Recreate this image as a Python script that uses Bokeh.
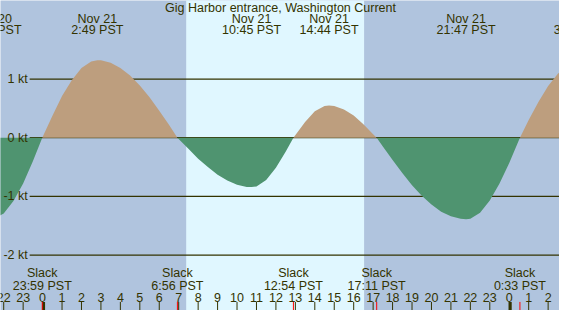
from bokeh.plotting import figure
from bokeh.models import Range1d
from bokeh.core.properties import value
from bokeh.embed import file_html
from bokeh.resources import INLINE
import numpy as np

chart_title = "Gig Harbor entrance, Washington Current"

# Current speed (hours from Nov 21 00:00 PST, knots; + flood, - ebb)
time_h = [-2.6, -2.5, -2.0, -1.5, -1.0, -0.5, -0.017, 0.5, 1.0, 1.5, 2.0, 2.5, 2.817,
          3.0, 3.5, 4.0, 4.5, 5.0, 5.5, 6.0, 6.5, 6.933, 7.5, 8.0, 8.5, 9.0, 9.5, 10.0,
          10.5, 10.75, 11.0, 11.5, 12.0, 12.5, 12.9, 13.5, 14.0, 14.5, 14.733, 15.0,
          15.5, 16.0, 16.5, 17.0, 17.183, 17.5, 18.0, 18.5, 19.0, 19.5, 20.0, 20.5,
          21.0, 21.5, 21.783, 22.0, 22.5, 23.0, 23.5, 24.0, 24.5, 24.55, 25.0, 25.5,
          26.0, 26.5, 27.0]
speed_kt = [-1.38, -1.38, -1.29, -1.08, -0.78, -0.40, 0.0, 0.37, 0.71, 0.98, 1.19, 1.30, 1.32,
            1.32, 1.28, 1.19, 1.06, 0.89, 0.69, 0.46, 0.22, 0.0, -0.19, -0.36, -0.50, -0.63, -0.73, -0.80,
            -0.84, -0.84, -0.83, -0.72, -0.51, -0.24, 0.0, 0.27, 0.45, 0.54, 0.55, 0.54,
            0.48, 0.38, 0.23, 0.06, 0.0, -0.15, -0.38, -0.60, -0.81, -0.99, -1.14, -1.26,
            -1.34, -1.38, -1.39, -1.38, -1.28, -1.07, -0.78, -0.43, -0.04, 0.0, 0.30, 0.61,
            0.88, 1.09, 1.23]

# Max flood / ebb events
ext_time = [-2.6, 2.817, 10.75, 14.733, 21.783, 27.633]
ext_date = ["Nov 20", "Nov 21", "Nov 21", "Nov 21", "Nov 21", "Nov 22"]
ext_clock = ["21:24 PST", "2:49 PST", "10:45 PST", "14:44 PST", "21:47 PST", "3:38 PST"]

# Slack events
slack_time = [-0.017, 6.933, 12.9, 17.183, 24.55]
slack_word = ["Slack", "Slack", "Slack", "Slack", "Slack"]
slack_clock = ["23:59 PST", "6:56 PST", "12:54 PST", "17:11 PST", "0:33 PST"]

# Hour ticks
hour_ticks = list(range(-2, 27))
hour_labels = ["22", "23", "0", "1", "2", "3", "4", "5", "6", "7", "8", "9", "10", "11",
               "12", "13", "14", "15", "16", "17", "18", "19", "20", "21", "22", "23",
               "0", "1", "2"]
midnight_ticks = [0, 24]

# Speed reference lines
kt_levels = [1, 0, -1, -2]
kt_labels = ["1 kt", "0 kt", "-1 kt", "-2 kt"]

# Daylight
sunrise_h = 7.385
sunset_h = 16.535

# ---------------------------------------------------------------
X0, X1 = -2.165, 26.585
Y0, Y1 = -2.945, 2.339

NIGHT = "#B0C4DE"
DAY = "#E0F7FF"
FLOOD = "#BD9E7E"
EBB = "#4F9470"
FG = "#333300"
FONT = value("Liberation Sans")
FS = "12.5px"

p = figure(width=559, height=310, x_range=Range1d(X0, X1), y_range=Range1d(Y0, Y1),
           output_backend="svg", toolbar_location=None, min_border=0)
p.axis.visible = False
p.grid.visible = False
p.outline_line_color = None
p.background_fill_color = NIGHT
p.border_fill_color = NIGHT

# daylight band
p.quad(left=[sunrise_h], right=[sunset_h], bottom=[Y0 - 1], top=[Y1 + 1],
       fill_color=DAY, line_color=None)

# reference lines
line_start = -0.665
p.segment(x0=[line_start] * len(kt_levels), x1=[X1 + 1] * len(kt_levels),
          y0=kt_levels, y1=kt_levels, line_color=FG, line_width=1.2)

# current fills
t = np.array(time_h)
s = np.array(speed_kt)
p.varea(x=t, y1=np.zeros_like(s), y2=np.maximum(s, 0), fill_color=FLOOD)
p.varea(x=t, y1=np.minimum(s, 0), y2=np.zeros_like(s), fill_color=EBB)

# kt labels
p.text(x=[-0.765] * len(kt_levels), y=kt_levels, text=kt_labels, text_align="right",
       text_baseline="middle", text_color=FG, text_font=FONT, text_font_size=FS)

# title
p.text(x=[12.235], y=[2.217], text=[chart_title], text_align="center",
       text_baseline="middle", text_color=FG, text_font=FONT, text_font_size=FS)

# extreme labels
p.text(x=ext_time, y=[2.023] * len(ext_time), text=ext_date, text_align="center",
       text_baseline="middle", text_color=FG, text_font=FONT, text_font_size=FS)
p.text(x=ext_time, y=[1.828] * len(ext_time), text=ext_clock, text_align="center",
       text_baseline="middle", text_color=FG, text_font=FONT, text_font_size=FS)

# slack labels
p.text(x=slack_time, y=[-2.313] * len(slack_time), text=slack_word, text_align="center",
       text_baseline="middle", text_color=FG, text_font=FONT, text_font_size=FS)
p.text(x=slack_time, y=[-2.531] * len(slack_time), text=slack_clock, text_align="center",
       text_baseline="middle", text_color=FG, text_font=FONT, text_font_size=FS)

# hour labels
p.text(x=hour_ticks, y=[-2.718] * len(hour_ticks), text=hour_labels, text_align="center",
       text_baseline="middle", text_color=FG, text_font=FONT, text_font_size=FS)

# hour ticks
tick_top = -2.799
p.segment(x0=hour_ticks, x1=hour_ticks, y0=[tick_top] * len(hour_ticks),
          y1=[Y0 - 1] * len(hour_ticks), line_color=FG, line_width=1)
p.segment(x0=[m + 0.05 for m in midnight_ticks], x1=[m + 0.05 for m in midnight_ticks],
          y0=[tick_top] * len(midnight_ticks), y1=[Y0 - 1] * len(midnight_ticks),
          line_color=FG, line_width=3)
# slack marks
p.segment(x0=slack_time, x1=slack_time, y0=[tick_top] * len(slack_time),
          y1=[Y0 - 1] * len(slack_time), line_color="red", line_width=1)

open("out.html", "w").write(file_html(p, INLINE))
